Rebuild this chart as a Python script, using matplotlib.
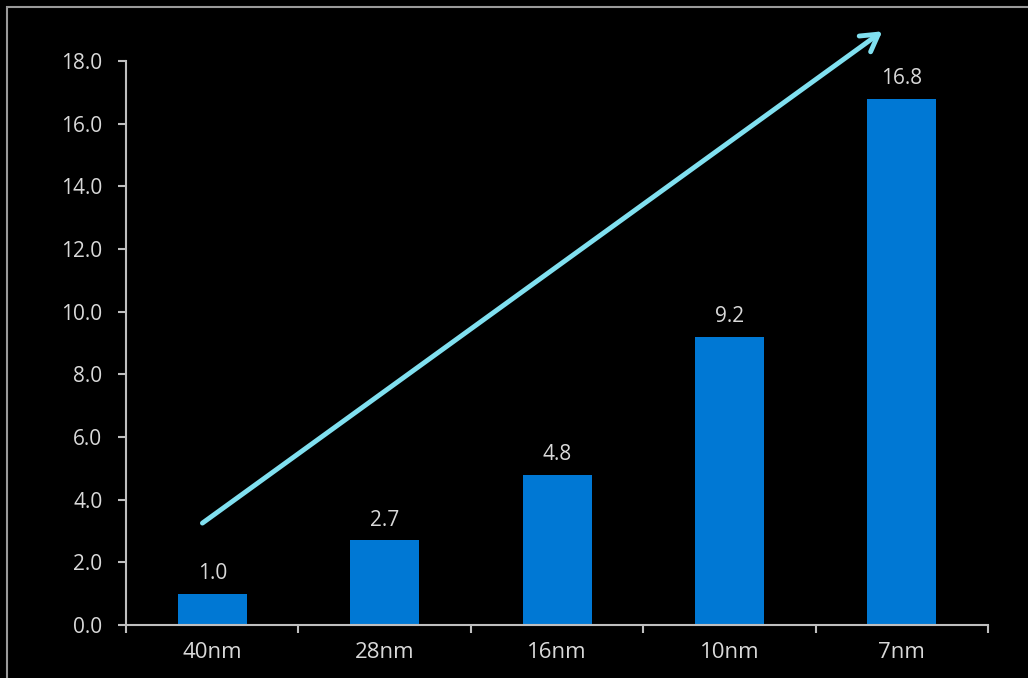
import matplotlib
matplotlib.use("agg")
from matplotlib import pyplot as plt
from matplotlib.patches import Rectangle

# data
nodes = ["40nm", "28nm", "16nm", "10nm", "7nm"]
cost_index = [1.0, 2.7, 4.8, 9.2, 16.8]
y_ticks = [0, 2, 4, 6, 8, 10, 12, 14, 16, 18]

plt.rcParams['font.family'] = ['Open Sans', 'DejaVu Sans']

text_col = "#D9D9D9"
axis_col = "#BFBFBF"

fig = plt.figure(figsize=(10.28, 6.78), dpi=100, facecolor="black")
ax = fig.add_axes([0.1226, 0.0782, 0.9611 - 0.1226, 0.910 - 0.0782])
ax.set_facecolor("black")

x = list(range(len(nodes)))
bars = ax.bar(x, cost_index, width=0.4, color="#0078D4", zorder=2)
for xi, v in zip(x, cost_index):
    ax.annotate(f"{v:.1f}", (xi, v), xytext=(0, 7), textcoords="offset points",
                ha="center", va="bottom", color=text_col, fontsize=15)

ax.set_xlim(-0.5, len(nodes) - 0.5)
ax.set_ylim(0, 18)
ax.set_yticks(y_ticks)
ax.set_yticklabels([f"{t:.1f}" for t in y_ticks])

# category boundaries as ticks, labels at centres
ax.set_xticks([i - 0.5 for i in range(len(nodes) + 1)])
ax.set_xticklabels([])
ax.set_xticks(x, minor=True)
ax.set_xticklabels(nodes, minor=True)
ax.tick_params(axis="x", which="minor", length=0, pad=12, labelsize=16, labelcolor=text_col)
ax.tick_params(axis="x", which="major", length=6, width=1.5, color=axis_col)
ax.tick_params(axis="y", length=6, width=1.5, color=axis_col, labelsize=15,
               labelcolor=text_col, pad=11)

for s in ["top", "right"]:
    ax.spines[s].set_visible(False)
for s in ["left", "bottom"]:
    ax.spines[s].set_color(axis_col)
    ax.spines[s].set_linewidth(1.5)

# trend arrow
ax.annotate("", xy=(3.90, 19.0), xytext=(-0.07, 3.2),
            xycoords="data", textcoords="data", annotation_clip=False,
            arrowprops=dict(arrowstyle="->,head_length=1.2,head_width=0.7",
                            color="#80E0F0", lw=3.5))

# frame around the slide area
fig.patches.append(Rectangle((7 / 1028, -0.1), 1.2, 1 - 7 / 678 + 0.1,
                             transform=fig.transFigure, fill=False,
                             edgecolor="#9A9A9A", linewidth=1.5))

fig.savefig("out.png", dpi=100, facecolor="black")
